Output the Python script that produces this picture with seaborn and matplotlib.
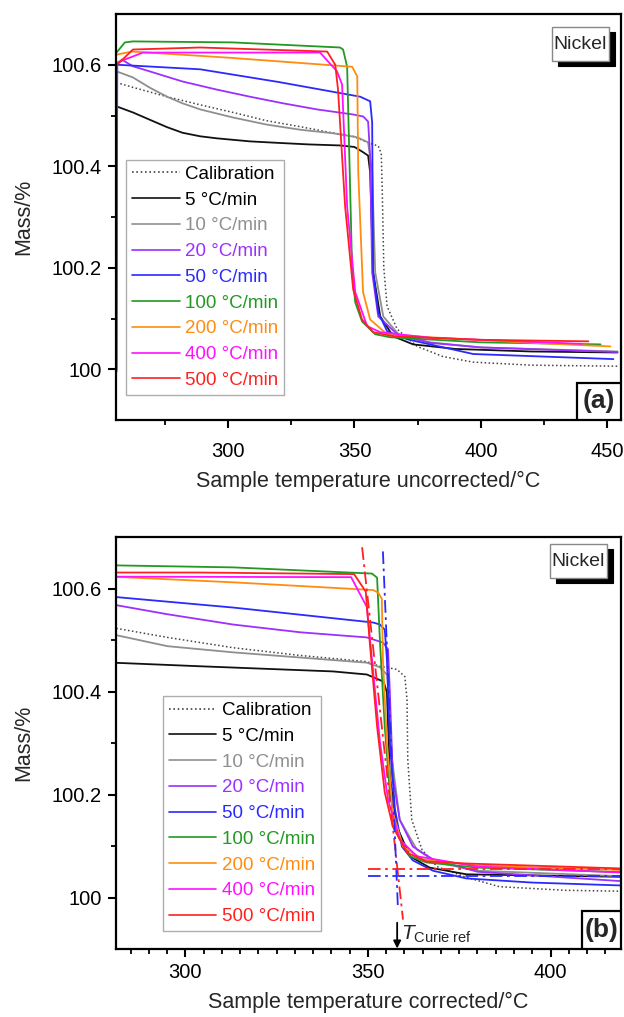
import matplotlib
matplotlib.use("Agg")
import matplotlib.pyplot as plt
import seaborn as sns
from matplotlib.patches import Rectangle
from matplotlib.ticker import FixedLocator, MultipleLocator, FuncFormatter

# ---------------- data: panel (a) uncorrected ----------------
cal_T_a = [255.9, 262, 275.9, 289, 302, 315, 328.5, 340, 349.5, 356.2, 359.4, 360.6, 361.0, 361.6, 362.9, 366.9, 374.8, 385, 397, 420, 454]
cal_M_a = [100.565, 100.556, 100.537, 100.521, 100.506, 100.490, 100.478, 100.467, 100.459, 100.445, 100.440, 100.425, 100.35, 100.20, 100.124, 100.079, 100.045, 100.025, 100.014, 100.008, 100.006]
r5_T_a = [255.9, 262.4, 268.9, 275.9, 282, 289, 295.6, 308.7, 320, 332, 344.3, 350, 353, 355.4, 356.2, 357.4, 360.2, 365.3, 373.2, 390, 420, 454]
r5_M_a = [100.518, 100.506, 100.492, 100.477, 100.466, 100.459, 100.455, 100.449, 100.446, 100.443, 100.441, 100.438, 100.429, 100.421, 100.388, 100.191, 100.104, 100.065, 100.049, 100.040, 100.035, 100.033]
r10_T_a = [255.9, 262.4, 269, 275.9, 282, 289, 302, 315.4, 328.5, 341.6, 351.1, 355.4, 357.0, 358.2, 361.4, 368.1, 380, 400, 454]
r10_M_a = [100.587, 100.575, 100.555, 100.537, 100.524, 100.512, 100.496, 100.482, 100.472, 100.465, 100.457, 100.447, 100.388, 100.191, 100.104, 100.065, 100.053, 100.043, 100.035]
r20_T_a = [255.9, 258, 262.4, 269, 282, 295.6, 308.7, 321.8, 335.2, 349.5, 353.5, 355.4, 356.2, 357.0, 359.4, 366.9, 380, 400, 454]
r20_M_a = [100.600, 100.610, 100.597, 100.587, 100.567, 100.551, 100.537, 100.524, 100.512, 100.502, 100.498, 100.488, 100.419, 100.191, 100.104, 100.069, 100.052, 100.043, 100.034]
r50_T_a = [255.9, 256.2, 289, 320, 352.3, 356.2, 357.0, 357.4, 359.4, 362.9, 370.9, 397, 452.4]
r50_M_a = [99.995, 100.600, 100.591, 100.566, 100.537, 100.528, 100.486, 100.191, 100.112, 100.075, 100.059, 100.030, 100.020]
r100_T_a = [255.9, 259.2, 262.4, 302, 344.3, 345.5, 347.1, 349.1, 350.3, 353.0, 358.2, 364.1, 400, 447.3]
r100_M_a = [100.624, 100.644, 100.646, 100.644, 100.634, 100.630, 100.596, 100.191, 100.132, 100.094, 100.069, 100.063, 100.053, 100.049]
r200_T_a = [255.9, 262, 300, 349.1, 351.1, 351.5, 353.4, 356.2, 362.9, 380, 420, 451.2]
r200_M_a = [100.620, 100.626, 100.614, 100.596, 100.577, 100.388, 100.152, 100.098, 100.069, 100.063, 100.052, 100.045]
r400_T_a = [255.9, 266.4, 336.4, 343.1, 345.1, 347.1, 350.3, 355.0, 360.2, 380, 440]
r400_M_a = [100.604, 100.624, 100.624, 100.587, 100.561, 100.321, 100.152, 100.085, 100.073, 100.062, 100.050]
r500_T_a = [255.9, 256.1, 262.4, 289, 339.2, 342.4, 343.5, 346.3, 349.5, 353.0, 357.4, 365.3, 400, 442.5]
r500_M_a = [100.0, 100.60, 100.630, 100.634, 100.626, 100.600, 100.551, 100.321, 100.157, 100.098, 100.073, 100.065, 100.058, 100.055]

# ---------------- data: panel (b) corrected ----------------
cal_T_b = [280, 295.1, 313.1, 331.4, 349.7, 353.3, 357.9, 360.1, 360.7, 360.9, 362.0, 364.8, 368.9, 377, 386, 404, 421]
cal_M_b = [100.524, 100.505, 100.485, 100.470, 100.458, 100.449, 100.443, 100.429, 100.384, 100.268, 100.151, 100.093, 100.060, 100.039, 100.021, 100.014, 100.012]
r5_T_b = [280, 304, 340.4, 349.7, 354.3, 355.2, 356.0, 357.9, 361.5, 366.9, 377, 421]
r5_M_b = [100.456, 100.449, 100.439, 100.433, 100.419, 100.398, 100.235, 100.138, 100.080, 100.058, 100.045, 100.040]
r10_T_b = [280, 295.1, 313.1, 331.4, 349.7, 353.3, 355.3, 355.8, 356.6, 358.7, 363.4, 368.9, 380, 421]
r10_M_b = [100.511, 100.488, 100.476, 100.466, 100.456, 100.447, 100.432, 100.38, 100.268, 100.151, 100.093, 100.068, 100.052, 100.041]
r20_T_b = [280, 295.1, 313.1, 331.4, 349.7, 354.1, 355.5, 356.0, 356.8, 358.7, 362.3, 367.8, 380, 421]
r20_M_b = [100.569, 100.550, 100.530, 100.515, 100.505, 100.495, 100.482, 100.398, 100.235, 100.151, 100.099, 100.074, 100.050, 100.031]
r50_T_b = [280, 313.1, 351.4, 353.3, 354.6, 355.2, 356.0, 357.4, 359.3, 362.3, 367.8, 377, 395, 421]
r50_M_b = [100.584, 100.563, 100.534, 100.530, 100.520, 100.462, 100.301, 100.171, 100.099, 100.072, 100.052, 100.037, 100.029, 100.023]
r100_T_b = [280, 313.1, 351.1, 352.5, 353.3, 354.6, 356.0, 357.9, 361.5, 366.1, 380, 421]
r100_M_b = [100.645, 100.641, 100.629, 100.621, 100.495, 100.332, 100.204, 100.126, 100.080, 100.068, 100.058, 100.049]
r200_T_b = [280, 313.1, 351.4, 352.8, 353.8, 354.1, 355.2, 356.8, 359.6, 365.0, 380, 421]
r200_M_b = [100.623, 100.612, 100.597, 100.592, 100.580, 100.462, 100.301, 100.165, 100.099, 100.074, 100.062, 100.053]
r400_T_b = [280, 345.4, 349.7, 351.1, 353.3, 355.5, 358.7, 363.4, 380, 421]
r400_M_b = [100.623, 100.622, 100.564, 100.462, 100.301, 100.190, 100.113, 100.080, 100.060, 100.048]
r500_T_b = [280, 304, 346.2, 349.4, 350.5, 352.5, 354.6, 356.8, 360.7, 366.1, 377, 421]
r500_M_b = [100.631, 100.631, 100.628, 100.594, 100.495, 100.332, 100.204, 100.138, 100.087, 100.070, 100.066, 100.056]

# tangent construction lines (panel b)
tan_red_T = [348.4, 359.6]
tan_red_M = [100.680, 99.957]
tan_blue_T = [354.1, 358.2]
tan_blue_M = [100.672, 99.981]
base_red_T = [350, 420]
base_red_M = [100.056, 100.056]
base_blue_T = [350, 420]
base_blue_M = [100.041, 100.041]
T_curie_ref = 358.0

labels = ["Calibration", "5 °C/min", "10 °C/min", "20 °C/min", "50 °C/min",
          "100 °C/min", "200 °C/min", "400 °C/min", "500 °C/min"]
colors = ["#444444", "#111111", "#8f8f8f", "#9b30ff", "#2a2aff",
          "#229922", "#ff8c10", "#ff10ff", "#ff2020"]

series_a = [(cal_T_a, cal_M_a), (r5_T_a, r5_M_a), (r10_T_a, r10_M_a), (r20_T_a, r20_M_a),
            (r50_T_a, r50_M_a), (r100_T_a, r100_M_a), (r200_T_a, r200_M_a),
            (r400_T_a, r400_M_a), (r500_T_a, r500_M_a)]
series_b = [(cal_T_b, cal_M_b), (r5_T_b, r5_M_b), (r10_T_b, r10_M_b), (r20_T_b, r20_M_b),
            (r50_T_b, r50_M_b), (r100_T_b, r100_M_b), (r200_T_b, r200_M_b),
            (r400_T_b, r400_M_b), (r500_T_b, r500_M_b)]

sns.set_style("ticks")
plt.rcParams["font.family"] = ["Liberation Sans", "DejaVu Sans"]
plt.rcParams["mathtext.fontset"] = "custom"
plt.rcParams["mathtext.rm"] = "Liberation Sans"
plt.rcParams["mathtext.it"] = "Liberation Sans:italic"

W, H = 624, 1017
fig = plt.figure(figsize=(W / 100, H / 100), dpi=100)
ax_a = fig.add_axes([116 / W, 1 - 420 / H, 505 / W, 406 / H])
ax_b = fig.add_axes([116 / W, 1 - 949 / H, 505 / W, 412 / H])


def draw(ax, series):
    for (T, M), lab, c in zip(series, labels, colors):
        if lab == "Calibration":
            sns.lineplot(x=T, y=M, ax=ax, color=c, lw=1.1, linestyle=(0, (1, 1.6)),
                         sort=False, estimator=None, label=lab)
        else:
            sns.lineplot(x=T, y=M, ax=ax, color=c, lw=1.3, sort=False,
                         estimator=None, label=lab)


def style(ax, xlabel, xlim, xmajor, xminor, tag, tag_x, legend_anchor, nickel, xpad, xlabelpad):
    ax.set_xlim(*xlim)
    ax.set_ylim(99.9, 100.7)
    ax.xaxis.set_major_locator(FixedLocator(xmajor))
    ax.xaxis.set_minor_locator(MultipleLocator(xminor))
    ax.yaxis.set_major_locator(FixedLocator([100, 100.2, 100.4, 100.6]))
    ax.yaxis.set_minor_locator(FixedLocator([100.1, 100.3, 100.5]))
    ax.yaxis.set_major_formatter(FuncFormatter(lambda v, p: "%g" % round(v, 3)))
    for s in ax.spines.values():
        s.set_linewidth(1.6)
        s.set_color("black")
    ax.tick_params(which="major", direction="out", length=6, width=1.5,
                   labelsize=14.5, colors="black")
    ax.tick_params(which="minor", direction="out", length=3.5, width=1.3, colors="black")
    ax.tick_params(axis="x", which="major", pad=xpad)
    ax.tick_params(axis="y", which="major", pad=4)
    ax.set_xlabel(xlabel, fontsize=15.5, labelpad=xlabelpad)
    ax.set_ylabel("Mass/%", fontsize=15.5, labelpad=13)

    leg = ax.legend(loc="upper left", bbox_to_anchor=legend_anchor, fontsize=13.5,
                    frameon=True, fancybox=False, edgecolor="#999999",
                    handlelength=2.55, handletextpad=0.3, labelspacing=0.46,
                    borderpad=0.3, borderaxespad=0.0)
    leg.get_frame().set_linewidth(1.0)
    for txt, c in zip(leg.get_texts(), colors):
        txt.set_color("black" if c in ("#444444", "#111111") else c)
    for h in leg.get_lines():
        h.set_linewidth(1.2)

    # Nickel label with drop shadow
    x0, y0, x1, y1 = nickel
    tr = ax.transAxes
    dx, dy = 6 / 505, 5 / 410
    ax.add_patch(Rectangle((x0 + dx, y0 - dy), x1 - x0, y1 - y0, transform=tr,
                           facecolor="black", edgecolor="black", lw=0.8, zorder=5))
    ax.add_patch(Rectangle((x0, y0), x1 - x0, y1 - y0, transform=tr,
                           facecolor="white", edgecolor="#888888", lw=1.0, zorder=6))
    ax.text((x0 + x1) / 2, (y0 + y1) / 2, "Nickel", transform=tr, ha="center",
            va="center", fontsize=14, zorder=7)

    # panel tag box
    ax.add_patch(Rectangle((tag_x, 0), 1 - tag_x, 0.092, transform=tr,
                           facecolor="white", edgecolor="black", lw=1.6, zorder=6))
    ax.text((tag_x + 1) / 2, 0.046, tag, transform=tr, ha="center", va="center",
            fontsize=19, fontweight="bold", zorder=7)


draw(ax_a, series_a)
style(ax_a, "Sample temperature uncorrected/°C", (255.7, 455.4), [300, 350, 400, 450], 25,
      "(a)", 0.912, (0.02, 0.64), (0.863, 0.884, 0.976, 0.968), 10, 7)

draw(ax_b, series_b)
for tT, tM, c in [(tan_red_T, tan_red_M, "#ff2020"), (tan_blue_T, tan_blue_M, "#2a2aff"),
                  (base_red_T, base_red_M, "#ff2020"), (base_blue_T, base_blue_M, "#2a2aff")]:
    sns.lineplot(x=tT, y=tM, ax=ax_b, color=c, lw=1.3,
                 linestyle=(0, (7, 2.5, 1.5, 2.5)), sort=False, estimator=None, legend=False)
style(ax_b, "Sample temperature corrected/°C", (281.0, 419.3), [300, 350, 400], 5,
      "(b)", 0.922, (0.093, 0.613), (0.859, 0.900, 0.972, 0.983), 4, 7)

ax_b.annotate("", xy=(T_curie_ref, 99.901), xytext=(T_curie_ref, 99.951),
              arrowprops=dict(arrowstyle="-|>", color="black", lw=1.3,
                              mutation_scale=11, shrinkA=0, shrinkB=0), zorder=8)
ax_b.text(T_curie_ref + 1.1, 99.918, r"$\mathit{T}_{\mathrm{Curie\ ref}}$",
          fontsize=15, ha="left", va="baseline", zorder=8)

fig.savefig("out.png", dpi=100)
